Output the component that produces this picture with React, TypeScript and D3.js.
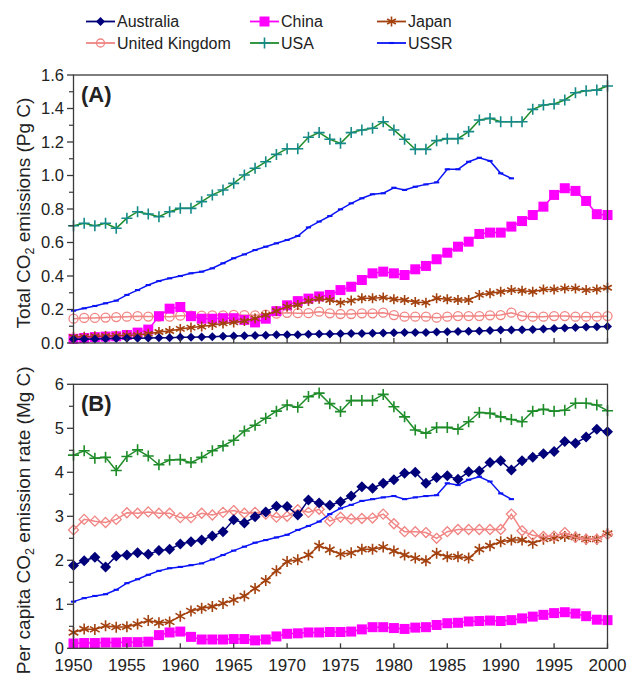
import React from "react";
import * as d3 from "d3";

// years on the x axis
const YEARS = d3.range(1950, 2001);

// (A) total CO2 emissions, Pg C
const totAustralia = [0.022,0.023,0.024,0.025,0.027,0.028,0.029,0.030,0.031,0.032,
  0.034,0.035,0.036,0.038,0.040,0.042,0.043,0.045,0.047,0.050,
  0.050,0.050,0.052,0.054,0.054,0.055,0.056,0.057,0.058,0.060,
  0.061,0.062,0.063,0.063,0.066,0.067,0.068,0.070,0.072,0.075,
  0.077,0.077,0.079,0.081,0.083,0.086,0.090,0.092,0.095,0.097,0.099];
const totChina = [0.025,0.03,0.035,0.038,0.04,0.048,0.062,0.08,0.16,0.205,
  0.215,0.16,0.145,0.145,0.148,0.148,0.138,0.123,0.145,0.19,
  0.225,0.25,0.265,0.278,0.287,0.316,0.336,0.376,0.416,0.426,
  0.416,0.406,0.44,0.46,0.50,0.539,0.575,0.605,0.651,0.659,
  0.659,0.695,0.728,0.764,0.814,0.884,0.924,0.908,0.848,0.769,0.764];
const totJapan = [0.036,0.038,0.040,0.042,0.044,0.046,0.048,0.055,0.066,0.072,
  0.084,0.092,0.098,0.108,0.117,0.123,0.131,0.147,0.167,0.191,
  0.217,0.227,0.251,0.264,0.257,0.241,0.253,0.267,0.267,0.271,
  0.261,0.257,0.245,0.241,0.267,0.261,0.257,0.257,0.287,0.297,
  0.306,0.316,0.312,0.306,0.32,0.32,0.326,0.326,0.316,0.32,0.33];
const totUK = [0.145,0.15,0.15,0.152,0.155,0.157,0.16,0.158,0.158,0.157,
  0.163,0.163,0.163,0.165,0.165,0.168,0.166,0.165,0.17,0.175,
  0.18,0.178,0.178,0.187,0.177,0.173,0.173,0.177,0.177,0.181,
  0.167,0.157,0.157,0.157,0.151,0.157,0.161,0.161,0.161,0.165,
  0.167,0.181,0.161,0.157,0.157,0.161,0.161,0.157,0.157,0.157,0.161];
const totUSA = [0.70,0.715,0.70,0.715,0.685,0.745,0.784,0.77,0.754,0.784,
  0.804,0.804,0.844,0.884,0.913,0.953,1.003,1.043,1.082,1.126,
  1.16,1.16,1.228,1.256,1.216,1.192,1.256,1.272,1.282,1.321,
  1.272,1.216,1.156,1.156,1.208,1.22,1.22,1.262,1.331,1.341,
  1.321,1.321,1.321,1.395,1.421,1.427,1.451,1.494,1.506,1.51,1.534];
const totUSSR = [0.193,0.207,0.221,0.237,0.253,0.287,0.316,0.346,0.370,0.386,
  0.40,0.416,0.426,0.446,0.476,0.506,0.529,0.555,0.575,0.595,
  0.615,0.639,0.69,0.725,0.758,0.798,0.834,0.864,0.888,0.894,
  0.927,0.914,0.933,0.947,0.959,1.037,1.037,1.082,1.106,1.087,
  1.013,0.983];

// (B) per capita emission rate, Mg C
const pcAustralia = [1.88,1.99,2.07,1.85,2.10,2.12,2.17,2.14,2.22,2.25,
  2.37,2.42,2.46,2.55,2.65,2.92,2.85,2.99,3.10,3.23,
  3.22,3.03,3.37,3.30,3.25,3.33,3.46,3.67,3.64,3.75,
  3.83,3.98,4.00,3.75,3.88,3.92,3.84,4.01,4.03,4.22,
  4.26,4.05,4.26,4.34,4.42,4.47,4.70,4.66,4.80,4.98,4.92];
const pcChina = [0.11,0.12,0.12,0.13,0.13,0.14,0.14,0.15,0.30,0.36,
  0.38,0.26,0.20,0.20,0.20,0.21,0.21,0.18,0.20,0.27,
  0.33,0.34,0.36,0.36,0.37,0.37,0.38,0.43,0.48,0.48,
  0.46,0.44,0.47,0.48,0.53,0.57,0.58,0.61,0.62,0.63,
  0.62,0.64,0.68,0.72,0.76,0.80,0.82,0.79,0.73,0.65,0.64];
const pcJapan = [0.36,0.44,0.43,0.51,0.48,0.49,0.55,0.63,0.58,0.60,
  0.73,0.85,0.91,0.95,1.02,1.10,1.19,1.36,1.54,1.76,
  1.97,2.01,2.12,2.33,2.24,2.14,2.17,2.25,2.25,2.30,
  2.21,2.12,2.05,1.99,2.16,2.08,2.08,2.05,2.25,2.33,
  2.42,2.46,2.46,2.39,2.48,2.50,2.54,2.53,2.48,2.48,2.61];
const pcUK = [2.69,2.93,2.89,2.86,2.93,3.08,3.07,3.10,3.07,3.07,
  2.97,2.97,3.07,3.03,3.09,3.13,3.07,3.09,3.05,2.98,
  3.00,3.15,3.09,3.16,2.89,2.98,2.94,2.95,2.96,3.05,
  2.83,2.65,2.65,2.63,2.50,2.65,2.70,2.70,2.70,2.70,
  2.70,3.05,2.67,2.57,2.54,2.55,2.63,2.52,2.48,2.48,2.59];
const pcUSA = [4.39,4.49,4.32,4.34,4.04,4.36,4.51,4.37,4.17,4.28,
  4.29,4.22,4.34,4.49,4.60,4.73,4.94,5.07,5.23,5.39,
  5.53,5.48,5.72,5.80,5.56,5.38,5.63,5.63,5.63,5.77,
  5.49,5.26,4.96,4.89,5.02,5.02,4.98,5.15,5.36,5.34,
  5.26,5.20,5.15,5.39,5.43,5.39,5.41,5.57,5.57,5.53,5.40];
const pcUSSR = [1.06,1.14,1.19,1.23,1.33,1.48,1.57,1.67,1.76,1.82,
  1.85,1.89,1.93,2.02,2.12,2.22,2.31,2.40,2.46,2.52,
  2.58,2.69,2.78,2.88,3.05,3.18,3.26,3.35,3.39,3.43,
  3.46,3.39,3.43,3.46,3.48,3.75,3.71,3.83,3.90,3.79,
  3.52,3.39];

const TICKS_A = [0, 0.2, 0.4, 0.6, 0.8, 1.0, 1.2, 1.4, 1.6];
const TICKS_B = [0, 1, 2, 3, 4, 5, 6];
const X_TICKS = [1950, 1955, 1960, 1965, 1970, 1975, 1980, 1985, 1990, 1995, 2000];

const FONT = "'Liberation Sans', Arial, Helvetica, sans-serif";
const NAVY = "#00007a";
const MAGENTA = "#ff00ff";
const BROWN = "#a3410f";
const SALMON = "#f08583";
const GREEN = "#1f8c2a";
const TEAL = "#168a88";
const BLUE = "#0a14f5";

const x = d3.scaleLinear().domain([1950, 2000]).range([73.5, 607.5]);
const yA = d3.scaleLinear().domain([0, 1.6]).range([343, 75]);
const yB = d3.scaleLinear().domain([0, 6]).range([648.3, 384.3]);

function Marker({ shape, cx, cy, s, color }) {
  switch (shape) {
    case "diamond":
      return <path d={`M${cx},${cy - s}L${cx + s},${cy}L${cx},${cy + s}L${cx - s},${cy}Z`} fill={color} />;
    case "odiamond":
      return <path d={`M${cx},${cy - s}L${cx + s},${cy}L${cx},${cy + s}L${cx - s},${cy}Z`} fill="none" stroke={color} strokeWidth={1.3} />;
    case "square":
      return <rect x={cx - s} y={cy - s} width={2 * s} height={2 * s} fill={color} />;
    case "circle":
      return <circle cx={cx} cy={cy} r={s} fill="none" stroke={color} strokeWidth={1.3} />;
    case "star": {
      const a = s * 0.87, b = s * 0.5;
      return <path d={`M${cx},${cy - s}L${cx},${cy + s}M${cx - a},${cy - b}L${cx + a},${cy + b}M${cx - a},${cy + b}L${cx + a},${cy - b}`}
        stroke={color} strokeWidth={1.6} fill="none" />;
    }
    case "plus":
      return <path d={`M${cx - s},${cy}L${cx + s},${cy}M${cx},${cy - s}L${cx},${cy + s}`} stroke={color} strokeWidth={1.6} fill="none" />;
    case "dash":
      return <rect x={cx - s} y={cy - s * 0.4} width={2 * s} height={s * 0.8} fill={color} />;
    default:
      return null;
  }
}

const seriesA = [
  { data: totUK, line: SALMON, mark: SALMON, shape: "circle", s: 4.5 },
  { data: totChina, line: MAGENTA, mark: MAGENTA, shape: "square", s: 5 },
  { data: totJapan, line: BROWN, mark: BROWN, shape: "star", s: 5 },
  { data: totAustralia, line: NAVY, mark: NAVY, shape: "diamond", s: 4.5 },
  { data: totUSSR, line: BLUE, mark: BLUE, shape: "dash", s: 2.6 },
  { data: totUSA, line: GREEN, mark: TEAL, shape: "plus", s: 5.5 },
];
const seriesB = [
  { data: pcChina, line: MAGENTA, mark: MAGENTA, shape: "square", s: 5 },
  { data: pcJapan, line: BROWN, mark: BROWN, shape: "star", s: 5.5 },
  { data: pcUK, line: SALMON, mark: SALMON, shape: "odiamond", s: 5 },
  { data: pcUSSR, line: BLUE, mark: BLUE, shape: "dash", s: 2.6 },
  { data: pcAustralia, line: NAVY, mark: NAVY, shape: "diamond", s: 5.5 },
  { data: pcUSA, line: GREEN, mark: GREEN, shape: "plus", s: 5.5 },
];

const legend = [
  { name: "Australia", line: NAVY, mark: NAVY, shape: "diamond", s: 4.5 },
  { name: "China", line: MAGENTA, mark: MAGENTA, shape: "square", s: 5 },
  { name: "Japan", line: BROWN, mark: BROWN, shape: "star", s: 5 },
  { name: "United Kingdom", line: SALMON, mark: SALMON, shape: "circle", s: 4 },
  { name: "USA", line: GREEN, mark: TEAL, shape: "plus", s: 5.5 },
  { name: "USSR", line: BLUE, mark: BLUE, shape: "dash", s: 2.6 },
];

function Panel({ series, y, ticks, minor, fmt, label, title, showX }) {
  const [y0, y1] = y.range();
  const line = d3.line<number>().x((_, i) => x(YEARS[i])).y((d) => y(d));
  return (
    <g>
      {series.map((sr, k) => (
        <g key={k}>
          <path d={line(sr.data) || ""} fill="none" stroke={sr.line} strokeWidth={1.5} />
          {sr.data.map((v, i) => (
            <Marker key={i} shape={sr.shape} cx={x(YEARS[i])} cy={y(v)} s={sr.s} color={sr.mark} />
          ))}
        </g>
      ))}
      <rect x={73.5} y={y1} width={534} height={y0 - y1} fill="none" stroke="#3a3a3a" strokeWidth={1.3} />
      {ticks.map((t) => (
        <g key={t}>
          <line x1={67} x2={73.5} y1={y(t)} y2={y(t)} stroke="#3a3a3a" strokeWidth={1.3} />
          <text x={64} y={y(t)} dy="0.36em" textAnchor="end" fontSize={16.5} fill="#222">{fmt(t)}</text>
        </g>
      ))}
      {minor.map((t) => (
        <line key={t} x1={69} x2={73.5} y1={y(t)} y2={y(t)} stroke="#3a3a3a" strokeWidth={1.2} />
      ))}
      {X_TICKS.map((t) => (
        <g key={t}>
          <line x1={x(t)} x2={x(t)} y1={y0} y2={y0 - 5} stroke="#3a3a3a" strokeWidth={1.3} />
          {showX && <text x={x(t)} y={671} textAnchor="middle" fontSize={17} fill="#222">{t}</text>}
        </g>
      ))}
      <text x={81} y={y1 + 27} fontSize={22} fontWeight="bold" fill="#222">{label}</text>
      <text transform={`translate(30,${(y0 + y1) / 2 + 4}) rotate(-90)`} textAnchor="middle" fontSize={19} fill="#222">
        {title[0]}<tspan dy={4} fontSize={12.5}>2</tspan><tspan dy={-4}>{title[1]}</tspan>
      </text>
    </g>
  );
}

export default function App() {
  const colX = [86, 250, 377];
  const rowY = [21.5, 43];
  return (
    <div>
      <style>{"body{margin:0}"}</style>
      <svg width={639} height={674} style={{ display: "block", fontFamily: FONT }}>
        <rect width={639} height={674} fill="#fff" />
        {legend.map((l, i) => {
          const lx = colX[i % 3];
          const ly = rowY[Math.floor(i / 3)];
          return (
            <g key={l.name}>
              <line x1={lx} x2={lx + 29} y1={ly} y2={ly} stroke={l.line} strokeWidth={1.8} />
              <Marker shape={l.shape} cx={lx + 14.5} cy={ly} s={l.s} color={l.mark} />
              <text x={lx + 31} y={ly} dy="0.36em" fontSize={16} fill="#222">{l.name}</text>
            </g>
          );
        })}
        <Panel series={seriesA} y={yA} ticks={TICKS_A}
          minor={[0.1, 0.3, 0.5, 0.7, 0.9, 1.1, 1.3, 1.5]}
          fmt={(t) => t.toFixed(1)} label="(A)" title={["Total CO", " emissions (Pg C)"]} showX={false} />
        <Panel series={seriesB} y={yB} ticks={TICKS_B}
          minor={[0.5, 1.5, 2.5, 3.5, 4.5, 5.5]}
          fmt={(t) => String(t)} label="(B)" title={["Per capita CO", " emission rate (Mg C)"]} showX={true} />
      </svg>
    </div>
  );
}
